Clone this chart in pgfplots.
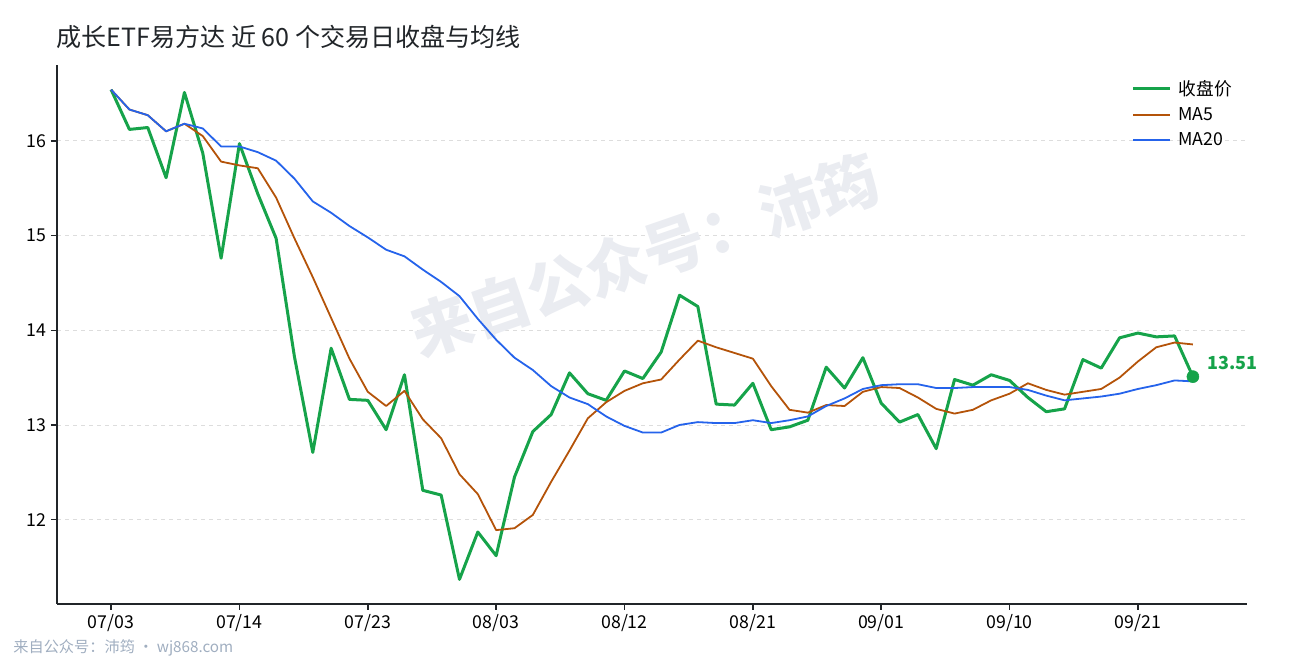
\documentclass[border=0pt]{standalone}
\usepackage{pgfplots}
\usepackage{pgfplotstable}
\pgfplotsset{compat=1.18}
\usepackage{fontspec}
\setmainfont{Noto Sans CJK SC}

\definecolor{closec}{RGB}{22,163,74}
\definecolor{ma5c}{RGB}{180,83,9}
\definecolor{ma20c}{RGB}{37,99,235}
\definecolor{titlec}{RGB}{33,37,41}
\definecolor{gridc}{RGB}{221,221,221}
\definecolor{footc}{RGB}{160,174,192}
\definecolor{wmc}{RGB}{234,236,241}

% index, close, MA5, MA20 (60 trading days)
\pgfplotstableread{
i close ma5 ma20
0 16.54 16.54 16.54
1 16.12 16.33 16.33
2 16.14 16.27 16.27
3 15.61 16.10 16.10
4 16.51 16.18 16.18
5 15.87 16.05 16.13
6 14.76 15.78 15.94
7 15.97 15.74 15.94
8 15.44 15.71 15.88
9 14.97 15.40 15.79
10 13.72 14.97 15.60
11 12.71 14.56 15.36
12 13.81 14.13 15.24
13 13.27 13.70 15.10
14 13.26 13.35 14.98
15 12.95 13.20 14.85
16 13.53 13.36 14.78
17 12.31 13.06 14.64
18 12.26 12.86 14.51
19 11.37 12.48 14.36
20 11.87 12.27 14.12
21 11.62 11.89 13.90
22 12.45 11.91 13.71
23 12.93 12.05 13.58
24 13.11 12.40 13.41
25 13.55 12.73 13.29
26 13.33 13.07 13.22
27 13.26 13.24 13.09
28 13.57 13.36 12.99
29 13.49 13.44 12.92
30 13.77 13.48 12.92
31 14.37 13.69 13.00
32 14.25 13.89 13.03
33 13.22 13.82 13.02
34 13.21 13.76 13.02
35 13.44 13.70 13.05
36 12.95 13.41 13.02
37 12.98 13.16 13.05
38 13.05 13.13 13.09
39 13.61 13.21 13.20
40 13.39 13.20 13.28
41 13.71 13.35 13.38
42 13.23 13.40 13.42
43 13.03 13.39 13.43
44 13.11 13.29 13.43
45 12.75 13.17 13.39
46 13.48 13.12 13.39
47 13.42 13.16 13.40
48 13.53 13.26 13.40
49 13.47 13.33 13.40
50 13.29 13.44 13.37
51 13.14 13.37 13.31
52 13.17 13.32 13.26
53 13.69 13.35 13.28
54 13.60 13.38 13.30
55 13.92 13.50 13.33
56 13.97 13.67 13.38
57 13.93 13.82 13.42
58 13.94 13.87 13.47
59 13.51 13.85 13.46
}\data

\begin{document}
\begin{tikzpicture}
\path[use as bounding box] (0,0) rectangle (967.5pt,495pt);

\begin{axis}[
    at={(42.75pt,42pt)}, anchor=south west,
    scale only axis,
    width=892.5pt, height=404.25pt,
    xmin=-2.95, xmax=61.95,
    ymin=11.11, ymax=16.80,
    axis x line*=bottom, axis y line*=left,
    axis line style={line width=1.2pt, color=titlec},
    tick align=outside,
    major tick length=4.5pt,
    tick style={line width=1.1pt, color=titlec},
    xtick={0,7,14,21,28,35,42,49,56},
    xticklabels={07/03,07/14,07/23,08/03,08/12,08/21,09/01,09/10,09/21},
    ytick={12,13,14,15,16},
    /pgf/number format/assume math mode=true,
    ticklabel style={font=\fontsize{13.3}{15}\selectfont, color=black},
    ymajorgrids=true,
    grid style={dashed, gridc, line width=0.6pt},
    clip=false,
    legend style={draw=none, fill=none, at={(0.993,0.982)}, anchor=north east,
        font=\fontsize{13.3}{15}\selectfont, row sep=3.6pt},
    legend cell align=left,
    legend image code/.code={\draw[#1] (0pt,0pt) -- (27.75pt,0pt); \path (31pt,0pt);},
]
\node[rotate=19, text=wmc, font=\fontsize{46}{52}\selectfont\bfseries]
    at (axis cs:29.1,14.79) {来自公众号：沛筠};

\addplot[closec, line width=2.25pt, line join=round] table[x=i, y=close] {\data};
\addlegendentry{收盘价}
\addplot[ma5c, line width=1.35pt, line join=round] table[x=i, y=ma5] {\data};
\addlegendentry{MA5}
\addplot[ma20c, line width=1.35pt, line join=round] table[x=i, y=ma20] {\data};
\addlegendentry{MA20}

\addplot[only marks, mark=*, mark size=4.5pt, closec, forget plot,
    nodes near coords, point meta=explicit symbolic,
    nodes near coords style={anchor=west, xshift=7.5pt, yshift=10.5pt,
        text=closec, font=\fontsize{13.5}{16}\selectfont\bfseries}]
    coordinates {(59,13.51) [13.51]};
\end{axis}

\node[anchor=west, text=titlec, font=\fontsize{18.8}{22}\selectfont]
    at (39pt,467pt) {成长ETF易方达 近 60 个交易日收盘与均线};
\node[anchor=west, text=footc, font=\fontsize{11.4}{14}\selectfont]
    at (6.5pt,9pt) {来自公众号：沛筠 · wj868.com};
\end{tikzpicture}
\end{document}
